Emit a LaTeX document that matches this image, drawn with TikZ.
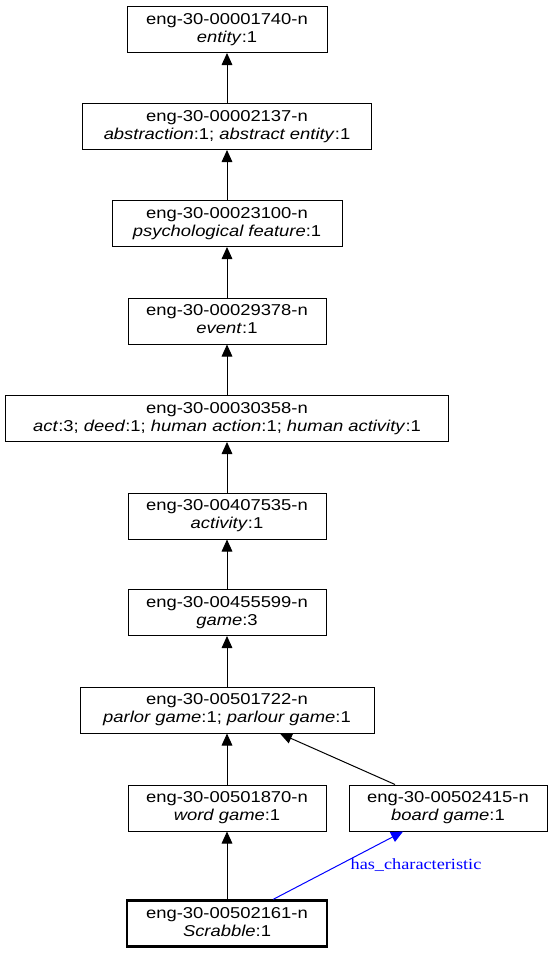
\documentclass[tikz,border=0pt]{standalone}
\usepackage{fontspec}
\setmainfont{Liberation Sans}[FakeStretch=1.17]
\newfontfamily\relfont{Liberation Serif}[FakeStretch=1.17]
\usetikzlibrary{shapes,arrows.meta}
\definecolor{relblue}{RGB}{0,0,255}

\begin{document}
\begin{tikzpicture}[x=0.75pt,y=-0.75pt]

\tikzstyle{synset} = [draw, line width=0.75pt, inner sep=0, minimum height=34.5pt,
minimum width=148.5pt, font=\fontsize{11.8}{13.5}\selectfont, fill=white]
\tikzstyle{target} = [synset, line width=1.8pt]
\tikzstyle{hyper} = [draw, line width=0.75pt, -{Triangle[length=9pt,width=8pt]}]
\tikzstyle{relation} = [hyper, draw=relblue]

\useasboundingbox (0,0) rectangle (553,953);

\node [synset, minimum width=150pt] (entity) at (227,29.5)
  {\begin{tabular}{c} eng-30-00001740-n\\ \textit{entity}:1\end{tabular}};

\node [synset, minimum width=216.75pt] (abstraction) at (227,126.5)
  {\begin{tabular}{c} eng-30-00002137-n\\ \textit{abstraction}:1; \textit{abstract entity}:1\end{tabular}};

\node [synset, minimum width=172.5pt] (psych) at (227,223.5)
  {\begin{tabular}{c} eng-30-00023100-n\\ \textit{psychological feature}:1\end{tabular}};

\node [synset] (event) at (227,321)
  {\begin{tabular}{c} eng-30-00029378-n\\ \textit{event}:1\end{tabular}};

\node [synset, minimum width=332.25pt] (act) at (227,418.5)
  {\begin{tabular}{c} eng-30-00030358-n\\ \textit{act}:3; \textit{deed}:1; \textit{human action}:1; \textit{human activity}:1\end{tabular}};

\node [synset] (activity) at (227,516)
  {\begin{tabular}{c} eng-30-00407535-n\\ \textit{activity}:1\end{tabular}};

\node [synset] (game) at (227,612.5)
  {\begin{tabular}{c} eng-30-00455599-n\\ \textit{game}:3\end{tabular}};

\node [synset, minimum width=220.5pt] (parlor) at (227,710)
  {\begin{tabular}{c} eng-30-00501722-n\\ \textit{parlor game}:1; \textit{parlour game}:1\end{tabular}};

\node [synset] (word) at (227,808)
  {\begin{tabular}{c} eng-30-00501870-n\\ \textit{word game}:1\end{tabular}};

\node [synset] (board) at (448,808)
  {\begin{tabular}{c} eng-30-00502415-n\\ \textit{board game}:1\end{tabular}};

\node [target, minimum width=150pt] (scrabble) at (227,923.5)
  {\begin{tabular}{c} eng-30-00502161-n\\ \textit{Scrabble}:1\end{tabular}};

% hypernym links
\draw [hyper] (abstraction) -- (entity);
\draw [hyper] (psych) -- (abstraction);
\draw [hyper] (event) -- (psych);
\draw [hyper] (act) -- (event);
\draw [hyper] (activity) -- (act);
\draw [hyper] (game) -- (activity);
\draw [hyper] (parlor) -- (game);
\draw [hyper] (word) -- (parlor);
\draw [hyper] (board) -- (parlor);
\draw [hyper] (scrabble) -- (word);

% semantic relation
\draw [relation] (scrabble) -- (board);
\node [text=relblue, font=\relfont\fontsize{11.7}{13}\selectfont] (relname) at (416,865) {has\_characteristic};

\end{tikzpicture}
\end{document}
